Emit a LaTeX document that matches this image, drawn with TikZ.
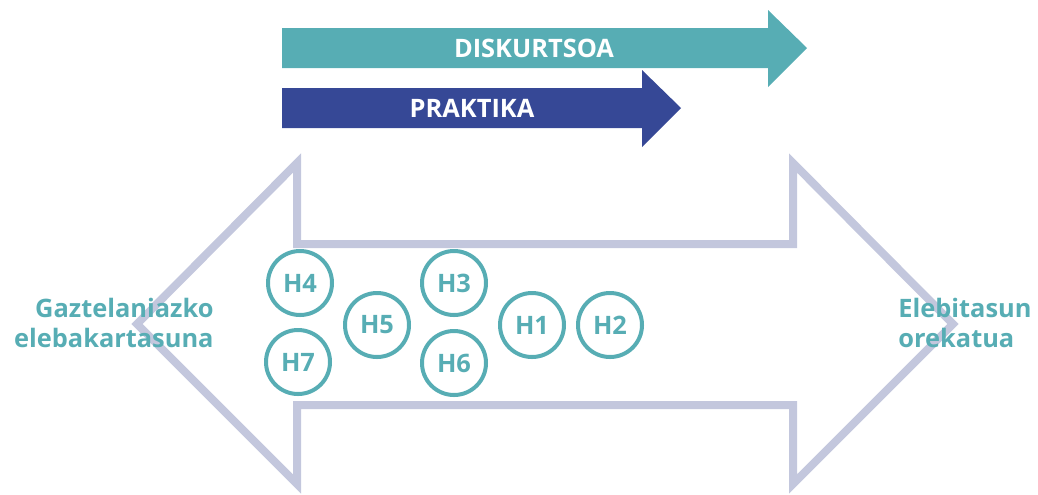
\documentclass[tikz,border=0pt]{standalone}
\usepackage{fontspec}
\setmainfont{Open Sans}

\definecolor{diskcol}{HTML}{57ADB4}
\definecolor{praxcol}{HTML}{364896}
\definecolor{bandcol}{HTML}{C3C7DD}

\begin{document}
\begin{tikzpicture}[x=0.5pt,y=-0.5pt,
    hcircle/.style={circle, draw=diskcol, line width=2pt, minimum size=32pt, inner sep=0pt,
        text=diskcol, font=\bfseries\fontsize{12.7}{15}\selectfont},
    endlabel/.style={text=diskcol, inner sep=0pt, font=\bfseries\fontsize{12.7}{15}\selectfont},
    barlabel/.style={text=white, font=\bfseries\fontsize{12.7}{15}\selectfont}]
        \useasboundingbox (0,0) rectangle (1038,494);

        % Discourse arrow on top
        \fill[diskcol] (282,28) -- (768,28) -- (768,10) -- (807,48) -- (768,87) -- (768,68) -- (282,68) -- cycle;
        \node[barlabel] (disk) at (534,48) {DISKURTSOA};

        % Practice arrow below it
        \fill[praxcol] (282,88) -- (642,88) -- (642,70) -- (681,108) -- (642,147) -- (642,128) -- (282,128) -- cycle;
        \node[barlabel] (prax) at (472,108) {PRAKTIKA};

        % Double-headed outline arrow
        \draw[bandcol, line width=4pt, line join=miter]
            (297,244) -- (297,163) -- (137,324) -- (297,484) -- (297,405)
            -- (793,405) -- (793,484) -- (953,324) -- (793,163) -- (793,244) -- cycle;

        % End labels
        \node[endlabel, align=right, anchor=east] (mono) at (214,323) {Gaztelaniazko\\elebakartasuna};
        \node[endlabel, align=left, anchor=west] (bili) at (898,323) {Elebitasun\\orekatua};

        % Hypotheses
        \node[hcircle] (h4) at (300,283) {H4};
        \node[hcircle] (h7) at (298,362) {H7};
        \node[hcircle] (h5) at (377,325) {H5};
        \node[hcircle] (h3) at (454,283) {H3};
        \node[hcircle] (h6) at (454,363) {H6};
        \node[hcircle] (h1) at (532,325) {H1};
        \node[hcircle] (h2) at (610,325) {H2};
    \end{tikzpicture}
\end{document}
